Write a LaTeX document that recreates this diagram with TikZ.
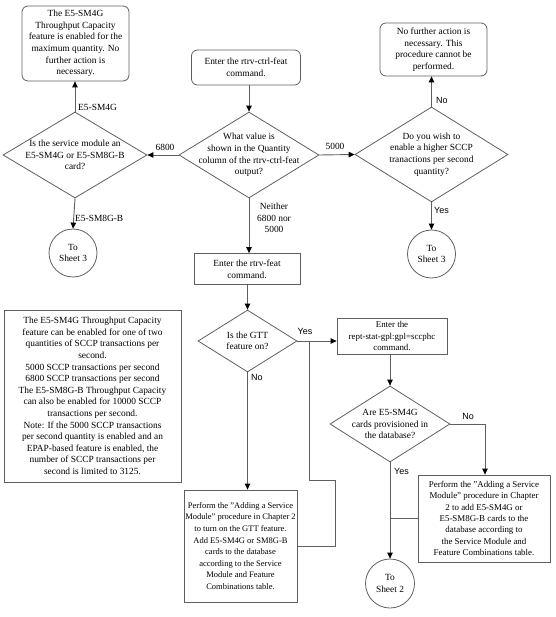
\documentclass[tikz,border=0pt]{standalone}
\usepackage{fontspec}
\setmainfont{Liberation Serif}
\newfontfamily\labsans{Liberation Sans}
\usetikzlibrary{shapes.geometric,arrows.meta}
\definecolor{lc}{RGB}{95,95,95}
\tikzset{
  txt/.style={font=\fontsize{9.4}{11.6}\selectfont, align=center, inner sep=0pt},
  txtsm/.style={font=\fontsize{8.9}{11.4}\selectfont, align=center, inner sep=0pt},
  txtxs/.style={font=\fontsize{8.5}{11.6}\selectfont, align=center, inner sep=0pt},
  rbox/.style={draw=lc, line width=0.8pt, rounded corners=6pt, inner sep=0pt},
  sbox/.style={draw=lc, line width=0.8pt, inner sep=0pt},
  dia/.style={draw=lc, line width=0.8pt, diamond, inner sep=0pt},
  circ/.style={draw=lc, line width=0.8pt, circle, inner sep=0pt},
  conn/.style={draw=lc, line width=0.9pt, -{Triangle[length=6pt,width=5.5pt,color=black]}},
  plain/.style={draw=lc, line width=0.9pt},
  lab/.style={font=\fontsize{9.4}{11.6}\selectfont, inner sep=0pt, align=center},
  slab/.style={font=\labsans\fontsize{9}{11}\selectfont, inner sep=0pt}
}
\begin{document}
\begin{tikzpicture}[x=1pt,y=-1pt]
\useasboundingbox (0,0) rectangle (555,617);

% boxes
\node[rbox, minimum width=107pt, minimum height=75pt] (b1) at (75.5,43.5) {};
\node[txt] at (b1) {The E5-SM4G\\Throughput Capacity\\feature is enabled for the\\maximum quantity. No\\further action is\\necessary.};

\node[rbox, minimum width=109pt, minimum height=35pt] (b2) at (246,67.5) {};
\node[txt] at (b2) {Enter the rtrv-ctrl-feat\\command.};

\node[rbox, minimum width=107pt, minimum height=53pt] (b3) at (433.5,49.5) {};
\node[txt] at (b3) {No further action is\\necessary. This\\procedure cannot be\\performed.};

\node[sbox, minimum width=106pt, minimum height=31pt] (b4) at (247,269) {};
\node[txt] at (b4) {Enter the rtrv-feat\\command.};

\node[sbox, minimum width=177pt, minimum height=172pt] (note) at (92.5,396) {};
\node[txt] at (note) {The E5-SM4G Throughput Capacity\\feature can be enabled for one of two\\quantities of SCCP transactions per\\second.\\5000 SCCP transactions per second\\6800 SCCP transactions per second\\The E5-SM8G-B Throughput Capacity\\can also be enabled for 10000 SCCP\\transactions per second.\\Note: If the 5000 SCCP transactions\\per second quantity is enabled and an\\EPAP-based feature is enabled, the\\number of SCCP transactions per\\second is limited to 3125.};

\node[sbox, minimum width=113pt, minimum height=112pt] (b5) at (240.5,546) {};
\node[txtxs] at (b5) {Perform the "Adding a Service\\Module" procedure in Chapter 2\\to turn on the GTT feature.\\Add E5-SM4G or SM8G-B\\cards to the database\\according to the Service\\Module and Feature\\Combinations table.};

\node[sbox, minimum width=110pt, minimum height=36pt] (b6) at (392,336) {};
\node[txtsm] at (b6) {Enter the\\rept-stat-gpl:gpl=sccphc\\command.};

\node[sbox, minimum width=132pt, minimum height=87pt] (b7) at (484,518.5) {};
\node[txtsm] at (b7) {Perform the "Adding a Service\\Module" procedure in Chapter\\2 to add E5-SM4G or\\E5-SM8G-B cards to the\\database according to\\the Service Module and\\Feature Combinations table.};

% diamonds
\node[dia, minimum width=144pt, minimum height=86pt] (d1) at (75,155) {};
\node[txt] at (d1) {Is the service module an\\E5-SM4G or E5-SM8G-B\\card?};

\node[dia, minimum width=140pt, minimum height=86pt] (d2) at (249,155) {};
\node[txt] at (d2) {What value is\\shown in the Quantity\\column of the rtrv-ctrl-feat\\output?};

\node[dia, minimum width=153pt, minimum height=95pt] (d3) at (431.5,154.5) {};
\node[txt] at (d3) {Do you wish to\\enable a higher SCCP\\tranactions per second\\quantity?};

\node[dia, minimum width=99pt, minimum height=62pt] (d4) at (247.5,341) {};
\node[txt] at (d4) {Is the GTT\\feature on?};

\node[dia, minimum width=120pt, minimum height=76pt] (d5) at (390,424) {};
\node[txt] at (d5) {Are E5-SM4G\\cards provisioned in\\the database?};

% circles
\node[circ, minimum size=48pt] (c1) at (73,253) {};
\node[txt] at (c1) {To\\Sheet 3};
\node[circ, minimum size=48pt] (c3) at (431.5,254) {};
\node[txt] at (c3) {To\\Sheet 3};
\node[circ, minimum size=49pt] (c2) at (390,583.5) {};
\node[txt] at (c2) {To\\Sheet 2};

% connectors
\draw[conn] (b2.south -| d2.north) -- (d2.north);
\draw[conn] (d2.west) -- (d1.east);
\draw[conn] (d2.east) -- (d3.west);
\draw[conn] (d2.south) -- (d2.south |- b4.north);
\draw[conn] (d1.north) -- (d1.north |- b1.south);
\draw[conn] (d1.south) -- (c1.north);
\draw[conn] (d3.north) -- (d3.north |- b3.south);
\draw[conn] (d3.south) -- (c3.north);
\draw[conn] (b4.south -| d4.north) -- (d4.north);
\draw[conn] (d4.east) -- (b6.west |- d4.east);
\draw[conn] (d4.south) -- (d4.south |- b5.north);
\draw[conn] (b6.south -| d5.north) -- (d5.north);
\coordinate (n1) at (485,424);
\draw[conn] (d5.east) -- (n1) -- (n1 |- b7.north);
\draw[conn] (d5.south) -- (c2.north);
\coordinate (m1) at (335,480);
\coordinate (m2) at (309,480);
\draw[plain] (b5.east) -| (m1) -- (m2) -- (m2 |- d4.east);
\draw[plain] (b7.west) -- (b7.west -| d5.south);

% labels
\node[lab, anchor=west] at (78,107) {E5-SM4G};
\node[lab, anchor=west] at (75,218) {E5-SM8G-B};
\node[lab] at (165,147.5) {6800};
\node[lab] at (335,146) {5000};
\node[lab] at (274,218) {Neither\\6800 nor\\5000};
\node[slab, anchor=west] at (436,100) {No};
\node[slab, anchor=west] at (434,210) {Yes};
\node[slab] at (305,331) {Yes};
\node[slab, anchor=west] at (251,377) {No};
\node[slab] at (468,416) {No};
\node[slab, anchor=west] at (394,471) {Yes};
\end{tikzpicture}
\end{document}
